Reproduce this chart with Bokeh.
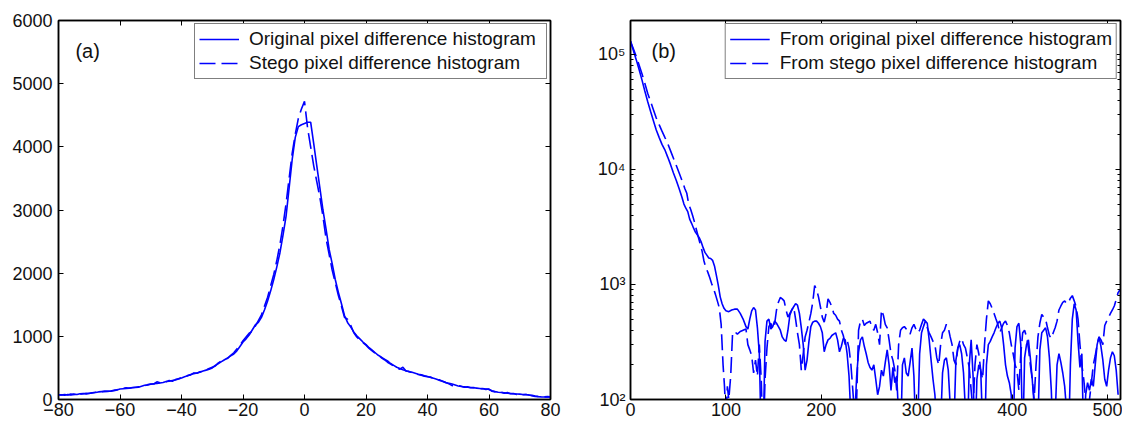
from bokeh.plotting import figure
from bokeh.models import (Range1d, FixedTicker, LinearAxis, LogAxis, Legend, LegendItem,
                          Label, ColumnDataSource, CustomJSTickFormatter)
from bokeh.layouts import row
from bokeh.embed import file_html
from bokeh.resources import INLINE

FONT = "Liberation Sans"
BLUE = "#0000ff"

# ---------------- panel (a) data ----------------
a_x = list(range(-80, 81))
a_orig = [
    70, 75, 68, 80, 72, 85, 78, 90, 95, 88,
    100, 105, 110, 120, 125, 128, 130, 132, 140, 150,
    165, 170, 175, 180, 185, 190, 195, 210, 225, 230,
    240, 250, 255, 262, 270, 285, 290, 300, 310, 325,
    340, 360, 375, 395, 410, 420, 430, 450, 465, 480,
    500, 540, 570, 600, 630, 660, 690, 720, 770, 840,
    910, 960, 1020, 1100, 1180, 1220, 1300, 1420, 1560, 1720,
    1900, 2100, 2320, 2600, 2900, 3350, 3800, 4150, 4320, 4350,
    4370,
    4390, 4390, 4050, 3700, 3350, 3000, 2700, 2380, 2150, 1900,
    1700, 1520, 1330, 1220, 1150, 1070, 1010, 960, 910, 870,
    820, 780, 740, 700, 670, 640, 610, 570, 540, 510,
    490, 470, 455, 440, 430, 415, 400, 390, 375, 365,
    350, 335, 320, 300, 290, 270, 255, 245, 230, 215,
    205, 200, 195, 190, 185, 180, 175, 170, 165, 160,
    140, 125, 115, 110, 105, 100, 95, 90, 88, 85,
    80, 78, 70, 60, 50, 45, 42, 40, 40, 40,
]
a_stego = [
    75, 70, 78, 72, 85, 80, 90, 85, 92, 98,
    95, 108, 115, 118, 122, 130, 128, 135, 145, 155,
    160, 175, 185, 178, 190, 195, 200, 205, 220, 235,
    245, 245, 280, 265, 260, 280, 300, 290, 315, 330,
    345, 355, 380, 390, 420, 415, 440, 445, 470, 490,
    510, 530, 580, 610, 640, 650, 700, 740, 800, 860,
    930, 990, 1050, 1080, 1160, 1250, 1340, 1480, 1620, 1800,
    1980, 2200, 2450, 2750, 3100, 3500, 3900, 4200, 4450, 4600,
    4720,
    4300, 4000, 3700, 3450, 3200, 2900, 2550, 2300, 2050, 1850,
    1650, 1480, 1300, 1270, 1180, 1060, 990, 940, 900, 860,
    810, 770, 730, 710, 660, 630, 590, 560, 530, 500,
    480, 510, 450, 445, 425, 410, 395, 385, 370, 360,
    355, 330, 315, 310, 285, 265, 250, 220, 225, 220,
    210, 195, 200, 185, 190, 175, 170, 175, 160, 165,
    130, 120, 110, 115, 100, 110, 90, 95, 80, 90,
    75, 80, 72, 65, 55, 48, 45, 42, 45, 42,
]
a_xticks = [-80, -60, -40, -20, 0, 20, 40, 60, 80]
a_yticks = [0, 1000, 2000, 3000, 4000, 5000, 6000]

# ---------------- panel (b) data ----------------
b_orig_x_head = [0, 3, 6, 9, 12, 15, 18, 21, 24, 27, 30, 33, 36, 39, 42, 45, 48, 51, 54,
                 56, 58, 60, 62, 64, 66, 68, 70, 72, 74, 76, 78, 80, 82, 84, 86, 88, 90, 92, 94, 96, 98, 100,
                 103, 106, 109, 112, 115, 118, 121,
                 123, 125, 127, 129, 131, 133, 135,
                 136.5, 138, 139.5]
b_orig_y_head = [130000, 108000, 90000, 74000, 60000, 48000, 39000, 32000, 26500, 22000,
                 19000, 16500, 14800, 12800, 11000, 9300, 8000, 6800, 5700,
                 5000, 4600, 4300, 3700, 3400, 3100, 2850, 2700, 2550, 2350, 2100, 1900, 1800,
                 1700, 1680, 1620, 1450, 1200, 980, 780, 680, 620, 590,
                 580, 600, 610, 610, 560, 500, 430,
                 410, 500, 590, 630, 600, 420, 250,
                 70, 40, 70]
b_orig_y_tail = [
    320, 480, 500, 410, 430, 480, 460, 430, 400, 350,
    330, 320, 400, 540, 600, 640, 680, 660, 560, 420,
    300, 180, 220, 320, 430, 470, 480, 480, 460, 430,
    380, 260, 300, 330, 340, 360, 370, 380, 330, 260,
    290, 340, 330, 250, 160, 70, 40, 70, 160, 260,
    330, 350, 290, 250, 210, 190, 180, 200, 150, 110,
    130, 180, 160, 210, 270, 200, 120, 190, 140, 160,
    70, 40, 200, 230, 170, 160, 210, 280, 160, 50,
    60, 250, 380, 430, 480, 460, 330, 220, 150, 110,
    60, 40, 60, 170, 220, 230, 180, 90, 40, 60,
    220, 280, 300, 250, 170, 80, 40, 200, 330, 160,
    40, 150, 200, 180, 60, 40, 200, 300, 320, 350,
    380, 420, 460, 480, 420, 300, 200, 160, 140, 110,
    40, 280, 430, 460, 300, 40, 230, 300, 330, 230,
    150, 90, 40, 60, 270, 380, 400, 420, 350, 230,
    120, 40, 70, 200, 250, 210, 170, 130, 80, 40,
    200, 500, 680, 600, 320, 190, 250, 40, 110, 140,
    120, 150, 130, 200, 300, 350, 290, 220, 150, 130,
    180, 230, 260, 240, 180, 110,
]
b_orig_x = b_orig_x_head + list(range(141, 512, 2))
b_orig_y = b_orig_y_head + b_orig_y_tail

b_stego_x_head = [0, 3, 6, 9, 12, 15, 18, 21, 24, 27, 30, 33, 36,
                  38, 40, 42, 45, 48, 51, 54, 57,
                  59, 61, 63, 65, 67, 69, 71, 73, 75, 77, 79, 81, 83, 85, 87, 89, 91, 93, 95, 97,
                  98.5, 100, 101.5, 103, 105, 107, 109,
                  112, 115, 118, 121,
                  123, 125, 127, 129, 131, 133, 135, 137, 139]
b_stego_y_head = [130000, 112000, 96000, 81000, 68000, 56000, 46000, 39000, 33000, 28000,
                  24500, 21500, 19000,
                  17500, 16000, 14500, 12500, 10800, 9300, 8000, 6800,
                  6200, 5000, 4500, 4000, 3500, 3000, 2600, 2250, 1950, 1600, 1400, 1280, 1150, 1020,
                  920, 820, 720, 630, 450, 200,
                  130, 70, 130, 100, 160, 380, 390,
                  370, 390, 400, 410,
                  300, 270, 240, 170, 220, 160, 300, 150, 40]
b_stego_y_tail = [
    150, 280, 430, 460, 410, 450, 600, 700, 770, 750,
    720, 600, 520, 560, 600, 640, 500, 380, 300, 180,
    250, 350, 400, 470, 560, 700, 980, 900, 780, 640,
    520, 470, 560, 750, 700, 640, 560, 540, 500, 480,
    400, 360, 300, 330, 280, 200, 120, 70, 100, 400,
    480, 500, 440, 460, 470, 480, 420, 400, 450, 380,
    300, 600, 540, 450, 420, 330, 250, 220, 180, 120,
    300, 400, 420, 430, 410, 380, 370, 420, 450, 410,
    380, 400, 450, 500, 480, 420, 380, 350, 320, 300,
    230, 200, 300, 380, 400, 450, 420, 350, 300, 220,
    200, 280, 320, 340, 300, 280, 230, 190, 120, 80,
    200, 300, 250, 180, 150, 300, 500, 720, 680, 620,
    560, 500, 450, 380, 420, 460, 480, 440, 380, 300,
    250, 200, 180, 120, 250, 380, 400, 350, 280, 200,
    150, 100, 200, 350, 460, 550, 520, 500, 420, 360,
    340, 380, 420, 480, 600, 650, 700, 720, 680, 700,
    760, 800, 720, 640, 500, 300, 200, 150, 100, 60,
    100, 140, 200, 240, 300, 350, 330, 300, 440, 480,
    520, 560, 600, 650, 740, 850, 900,
]
b_stego_x = b_stego_x_head + list(range(141, 514, 2))
b_stego_y = b_stego_y_head + b_stego_y_tail

b_xticks = [0, 100, 200, 300, 400, 500]
b_yticks = [100, 1000, 10000, 100000]
b_yminor = [m * 10 ** k for k in range(2, 6) for m in range(2, 10)]


def src(x, y):
    n = min(len(x), len(y))
    return ColumnDataSource(data=dict(x=x[:n], y=y[:n]))


def style_axis(ax, labels=True, minor=False, standoff=5):
    ax.axis_line_color = "black"
    ax.axis_line_width = 1.5
    ax.major_tick_in = 5
    ax.major_tick_out = 0
    ax.major_tick_line_color = "black"
    ax.major_tick_line_width = 1
    if minor:
        ax.minor_tick_in = 3
        ax.minor_tick_out = 0
        ax.minor_tick_line_color = "black"
        ax.minor_tick_line_width = 1
    else:
        ax.minor_tick_line_color = None
    ax.major_label_text_font = FONT
    if labels:
        ax.major_label_text_color = "#111111"
        ax.major_label_text_font_size = "18px"
        ax.major_label_standoff = standoff
    else:
        ax.major_label_text_color = None
        ax.major_label_text_font_size = "1px"
        ax.major_label_standoff = 0


def style_legend(leg, lw):
    leg.location = "top_right"
    leg.margin = 3
    leg.padding = 4
    leg.spacing = 2
    leg.glyph_width = 40
    leg.glyph_height = 20
    leg.label_height = 20
    leg.label_width = lw
    leg.label_standoff = 10
    leg.label_text_font = FONT
    leg.label_text_font_size = "19px"
    leg.label_text_color = "#111111"
    leg.border_line_color = "black"
    leg.border_line_width = 1.5
    leg.background_fill_color = "white"
    leg.background_fill_alpha = 1.0


DASH = "16 6"

# ---------------- panel (a) ----------------
p1 = figure(width=565, height=420, x_range=Range1d(-80, 80), y_range=Range1d(0, 6000),
            output_backend="svg", toolbar_location=None,
            min_border_left=58, min_border_right=15, min_border_top=20, min_border_bottom=21)
p1.xgrid.grid_line_color = None
p1.ygrid.grid_line_color = None
p1.outline_line_color = "black"
p1.outline_line_width = 1.5
p1.xaxis.ticker = FixedTicker(ticks=a_xticks)
p1.yaxis.ticker = FixedTicker(ticks=a_yticks)
style_axis(p1.xaxis[0], standoff=3)
style_axis(p1.yaxis[0], standoff=6)
top1 = LinearAxis(ticker=FixedTicker(ticks=a_xticks))
right1 = LinearAxis(ticker=FixedTicker(ticks=a_yticks))
style_axis(top1, labels=False)
style_axis(right1, labels=False)
p1.add_layout(top1, "above")
p1.add_layout(right1, "right")

r1 = p1.line("x", "y", source=src(a_x, a_orig), line_color=BLUE, line_width=1.6)
r2 = p1.line("x", "y", source=src(a_x, a_stego), line_color=BLUE, line_width=1.6, line_dash=DASH)
leg1 = Legend(items=[LegendItem(label="Original pixel difference histogram", renderers=[r1]),
                     LegendItem(label="Stego pixel difference histogram", renderers=[r2])])
style_legend(leg1, 293)
p1.add_layout(leg1)
p1.add_layout(Label(x=-74.5, y=5525, text="(a)", text_font=FONT, text_font_size="20px",
                    text_baseline="middle", text_align="left", text_color="#111111"))

# ---------------- panel (b) ----------------
p2 = figure(width=557, height=420, x_range=Range1d(0, 513.5), y_range=Range1d(100, 197000),
            y_axis_type="log", output_backend="svg", toolbar_location=None,
            min_border_left=65, min_border_right=2, min_border_top=20, min_border_bottom=21)
p2.xgrid.grid_line_color = None
p2.ygrid.grid_line_color = None
p2.outline_line_color = "black"
p2.outline_line_width = 1.5
p2.xaxis.ticker = FixedTicker(ticks=b_xticks)
p2.yaxis.ticker = FixedTicker(ticks=b_yticks, minor_ticks=b_yminor)
sup_code = """
const sup = {"0":"\u2070","1":"\u00b9","2":"\u00b2","3":"\u00b3","4":"\u2074",
             "5":"\u2075","6":"\u2076","7":"\u2077","8":"\u2078","9":"\u2079"};
const e = Math.round(Math.log10(tick));
return "10" + String(e).split("").map(c => sup[c]).join("");
"""
p2.yaxis.formatter = CustomJSTickFormatter(code=sup_code)
style_axis(p2.xaxis[0], standoff=3)
style_axis(p2.yaxis[0], minor=True, standoff=5)
top2 = LinearAxis(ticker=FixedTicker(ticks=b_xticks))
right2 = LogAxis(ticker=FixedTicker(ticks=b_yticks, minor_ticks=b_yminor))
style_axis(top2, labels=False)
style_axis(right2, labels=False, minor=True)
p2.add_layout(top2, "above")
p2.add_layout(right2, "right")

s1 = p2.line("x", "y", source=src(b_orig_x, b_orig_y), line_color=BLUE, line_width=1.6)
s2 = p2.line("x", "y", source=src(b_stego_x, b_stego_y), line_color=BLUE, line_width=1.6, line_dash=DASH)
leg2 = Legend(items=[LegendItem(label="From original pixel difference histogram", renderers=[s1]),
                     LegendItem(label="From stego pixel difference histogram", renderers=[s2])])
style_legend(leg2, 332)
p2.add_layout(leg2)
p2.add_layout(Label(x=22, y=108000, text="(b)", text_font=FONT, text_font_size="20px",
                    text_baseline="middle", text_align="left", text_color="#111111"))

layout = row(p1, p2)
open("out.html", "w").write(file_html(layout, INLINE))
